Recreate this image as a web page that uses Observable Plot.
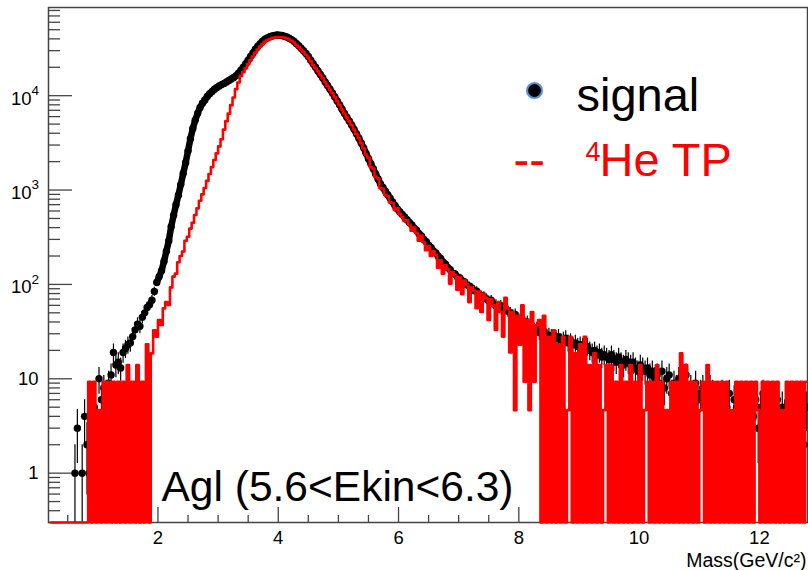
<!DOCTYPE html>
<html>
<head>
<meta charset="utf-8">
<script src="https://cdn.jsdelivr.net/npm/d3@7"></script>
<script src="https://cdn.jsdelivr.net/npm/@observablehq/plot@0.6"></script>
<style>
  body { margin: 0; background: #fff; }
  #chart { width: 808px; height: 570px; }
</style>
</head>
<body>
<div id="chart"></div>
<script>
// Histogram binning (mass, GeV/c^2)
const binStart = 0.2;
const binWidth = 0.04;

// signal: counts per bin (black points)
const signal = [
  0,0,0,0,0,0,0,0,0,0,
  1,3,0,1,4,2,1,0,5,3,
  10,6,8,7,9,11,19,14,15,13,
  19,21,23,24,28,33,38,36,45,50,
  57,61,68,84,105,121,140,175,225,290,
  410,540,700,880,1150,1500,1950,2600,3500,4500,
  5500,6500,7500,8300,9000,9800,10500,11100,11700,12200,
  12700,13100,13500,14000,14500,15000,15600,16300,17300,18600,
  20000,21800,23800,26000,28300,31000,33500,35600,37800,39700,
  41000,42200,43000,43600,43900,43800,43400,42700,41800,40600,
  39300,37700,35800,33800,31900,29900,28000,26000,23800,21800,
  20000,18300,16800,15400,14000,12800,11700,10700,9700,8800,
  8000,7200,6500,5900,5400,4900,4400,3950,3550,3150,
  2800,2450,2150,1900,1680,1480,1310,1160,1064,975,
  893,818,750,687,631,590,553,518,485,454,
  428,395,375,344,327,300,284,260,247,226,
  216,198,188,172,164,150,143,131,129,119,
  117,108,106,99,96,92,86,85,79,76,
  75,70,67,68,62,61,58,60,54,55,
  52,50,47,48,43,42,41,39,40,36,
  36,33,34,31,30,32,28,29,28,27,
  27,28,25,26,27,24,25,23,24,22,
  23,22,20,22,20,19,20,18,19,17,
  18,17,16,18,16,15,17,15,14,16,
  15,14,15,13,12,14,13,12,13,11,
  12,10,11,9,12,8,10,11,7,9,
  8,10,7,9,11,6,8,7,9,6,
  7,8,5,6,8,7,5,6,4,7,
  6,5,7,3,6,5,4,6,5,2,
  6,5,4,6,3,5,7,4,5,3,
  5,4,6,2,5,4,3,5,6,4,
  3,5,4,2,5
];

// 4He TP template (red histogram), scaled contents per bin
const heTP = [
  0,0,0,0,0,0,0,0,0,0,
  0,0,0,0,0,0,9.3,0,9.3,0,
  4.65,0,9.3,0,9.3,0,9.3,0,9.3,0,
  9.3,0,13.95,0,9.3,0,13.95,0,9.3,0,
  23.25,0,18.6,32.55,27.9,41.85,37.2,55.8,65.1,60.45,
  93,121,130,172,200,223,290,320,390,450,
  545,640,770,900,1050,1250,1480,1750,2080,2450,
  2900,3450,4370,5370,6460,7940,9550,11750,13800,16200,
  17800,19500,21600,23700,26000,28500,30900,33100,35100,37200,
  38600,39800,40700,41200,41700,41700,41600,41400,40500,39400,
  38100,36600,34700,32800,30900,29000,27200,25200,23100,21100,
  19600,18100,16600,15300,13900,12700,11600,10600,9650,8750,
  7950,7150,6480,5870,5380,4880,4390,3930,3540,3140,
  2760,2380,2200,1750,1690,1390,1330,1050,1040,890,
  860,740,730,620,640,560,520,470,480,430,
  370,400,350,290,330,280,230,255,200,225,
  205,150,180,130,160,145,102,135,125,88,
  120,79,110,100,65,93,86,56,84,51,
  79,72,42,70,60,33,65,51,28,72,
  56,19,51,4.65,46.5,23,60,9.3,42,4.65,
  51,9.3,37,42,0,46.5,0,27.9,0,32.55,
  0,23.25,0,27.9,0,4.65,27.9,0,18.6,0,
  23.25,0,27.9,0,13.95,0,18.6,0,13.95,0,
  4.65,13.95,0,13.95,0,9.3,0,13.95,0,9.3,
  0,13.95,0,9.3,0,13.95,0,4.65,9.3,0,
  9.3,0,13.95,0,9.3,0,4.65,0,9.3,0,
  9.3,0,18.6,0,13.95,0,9.3,0,9.3,0,
  4.65,9.3,0,13.95,0,9.3,0,9.3,0,9.3,
  0,9.3,0,4.65,0,9.3,0,9.3,0,9.3,
  0,9.3,0,9.3,4.65,0,9.3,0,9.3,0,
  9.3,0,9.3,0,4.65,0,9.3,0,9.3,0,
  9.3,0,9.3,0,9.3
];

// Axis ticks and labels
const xMajorTicks = [2, 4, 6, 8, 10, 12];
const xMinorTicks = [0.5, 1, 1.5, 2.5, 3, 3.5, 4.5, 5, 5.5, 6.5, 7, 7.5, 8.5, 9, 9.5, 10.5, 11, 11.5, 12.5];
const yMajorTicks = [1, 10, 100, 1000, 10000];
const yMinorTicks = [0.3,0.4,0.5,0.6,0.7,0.8,0.9,
  2,3,4,5,6,7,8,9, 20,30,40,50,60,70,80,90,
  200,300,400,500,600,700,800,900, 2000,3000,4000,5000,6000,7000,8000,9000,
  20000,30000,40000,50000,60000,70000,80000];
const yPlainLabels = [{v: 1, t: "1"}, {v: 10, t: "10"}];
const yPowerLabels = [{v: 100, e: "2"}, {v: 1000, e: "3"}, {v: 10000, e: "4"}];

const xDomain = [0.18, 12.8];
const yDomain = [0.3, 86000];

const bins = signal.map((s, i) => ({
  mass: binStart + binWidth * (i + 0.5),
  signal: s,
  tp: heTP[i] ?? 0
}));
const filled = bins.filter(d => d.signal > 0);
const dense = filled.filter(d => d.signal >= 100);

const W = 808, H = 570, mL = 48, mR = 1, mT = 7, mB = 48;
const plotW = W - mL - mR, plotH = H - mT - mB;
const axisColor = "#444";

const chart = Plot.plot({
  width: W, height: H,
  marginLeft: mL, marginRight: mR, marginTop: mT, marginBottom: mB,
  style: {fontFamily: "'Liberation Sans', Arial, Helvetica, sans-serif", background: "#fff", color: "#000"},
  x: {domain: xDomain, axis: null},
  y: {type: "log", domain: yDomain, axis: null},
  marks: [
    Plot.frame({stroke: axisColor, strokeWidth: 1.5}),
    Plot.tickX(xMajorTicks, {x: d => d, stroke: axisColor, strokeWidth: 1.3, insetTop: plotH - 15}),
    Plot.tickX(xMinorTicks, {x: d => d, stroke: axisColor, strokeWidth: 1.3, insetTop: plotH - 7}),
    Plot.tickY(yMajorTicks, {y: d => d, stroke: axisColor, strokeWidth: 1.3, insetRight: plotW - 24}),
    Plot.tickY(yMinorTicks, {y: d => d, stroke: axisColor, strokeWidth: 1.3, insetRight: plotW - 12}),
    Plot.text(xMajorTicks, {x: d => d, text: d => String(d), frameAnchor: "bottom", dy: 16, fontSize: 18.5, lineAnchor: "middle", fill: "#000"}),
    Plot.text(yPlainLabels, {y: "v", text: "t", frameAnchor: "left", textAnchor: "end", dx: -10, fontSize: 18.5, lineAnchor: "middle", fill: "#000"}),
    Plot.text(yPowerLabels, {y: "v", text: () => "10", frameAnchor: "left", textAnchor: "end", dx: -17, dy: 3, fontSize: 18.5, lineAnchor: "middle", fill: "#000"}),
    Plot.text(yPowerLabels, {y: "v", text: "e", frameAnchor: "left", textAnchor: "start", dx: -17, dy: -5, fontSize: 13.5, lineAnchor: "middle", fill: "#000"}),
    Plot.text(["Mass(GeV/c²)"], {text: d => d, frameAnchor: "bottom-right", textAnchor: "end", dx: -1, dy: 44, fontSize: 19.5, lineAnchor: "bottom", fill: "#000"}),

    // signal: error bars + markers
    Plot.ruleX(filled, {
      x: "mass",
      y1: d => Math.max(d.signal - Math.sqrt(d.signal), yDomain[0]),
      y2: d => d.signal + Math.sqrt(d.signal),
      stroke: "#000", strokeWidth: 1.2
    }),
    Plot.line(dense, {x: "mass", y: "signal", stroke: "#000", strokeWidth: 6.5, strokeLinejoin: "round", strokeLinecap: "round"}),
    Plot.dot(filled, {x: "mass", y: "signal", r: 3.7, fill: "#000", stroke: "none"}),

    // 4He TP histogram (empty bins drawn at the bottom of the frame)
    Plot.line(bins, {x: "mass", y: d => d.tp > 0 ? d.tp : yDomain[0], curve: "step", stroke: "#ff0000", strokeWidth: 2.6}),

    // annotation
    Plot.text(["Agl (5.6<Ekin<6.3)"], {text: d => d, frameAnchor: "top-left", dx: 113, dy: 493, fontSize: 42.5, textAnchor: "start", lineAnchor: "bottom", fill: "#000"}),

    // legend
    Plot.dot([0], {frameAnchor: "top-left", dx: 486, dy: 83, r: 7.5, fill: "#000", stroke: "#5b8fd6", strokeWidth: 2.2, ariaLabel: "legend marker"}),
    Plot.text(["signal"], {text: d => d, frameAnchor: "top-left", dx: 528, dy: 103, fontSize: 47, textAnchor: "start", lineAnchor: "bottom", fill: "#000"}),
    Plot.text(["--"], {text: d => d, frameAnchor: "top-left", dx: 465, dy: 168, fontSize: 47, textAnchor: "start", lineAnchor: "bottom", fill: "#ff0000"}),
    Plot.text(["4"], {text: d => d, frameAnchor: "top-left", dx: 537, dy: 153, fontSize: 27, textAnchor: "start", lineAnchor: "bottom", fill: "#ff0000"}),
    Plot.text(["He TP"], {text: d => d, frameAnchor: "top-left", dx: 551, dy: 168, fontSize: 47, textAnchor: "start", lineAnchor: "bottom", fill: "#ff0000"})
  ]
});

const marker = chart.querySelector('g[aria-label="legend marker"]');
if (marker) marker.style.filter = "drop-shadow(2px 3px 2px rgba(0,0,0,0.45))";

document.getElementById("chart").append(chart);
</script>
</body>
</html>
